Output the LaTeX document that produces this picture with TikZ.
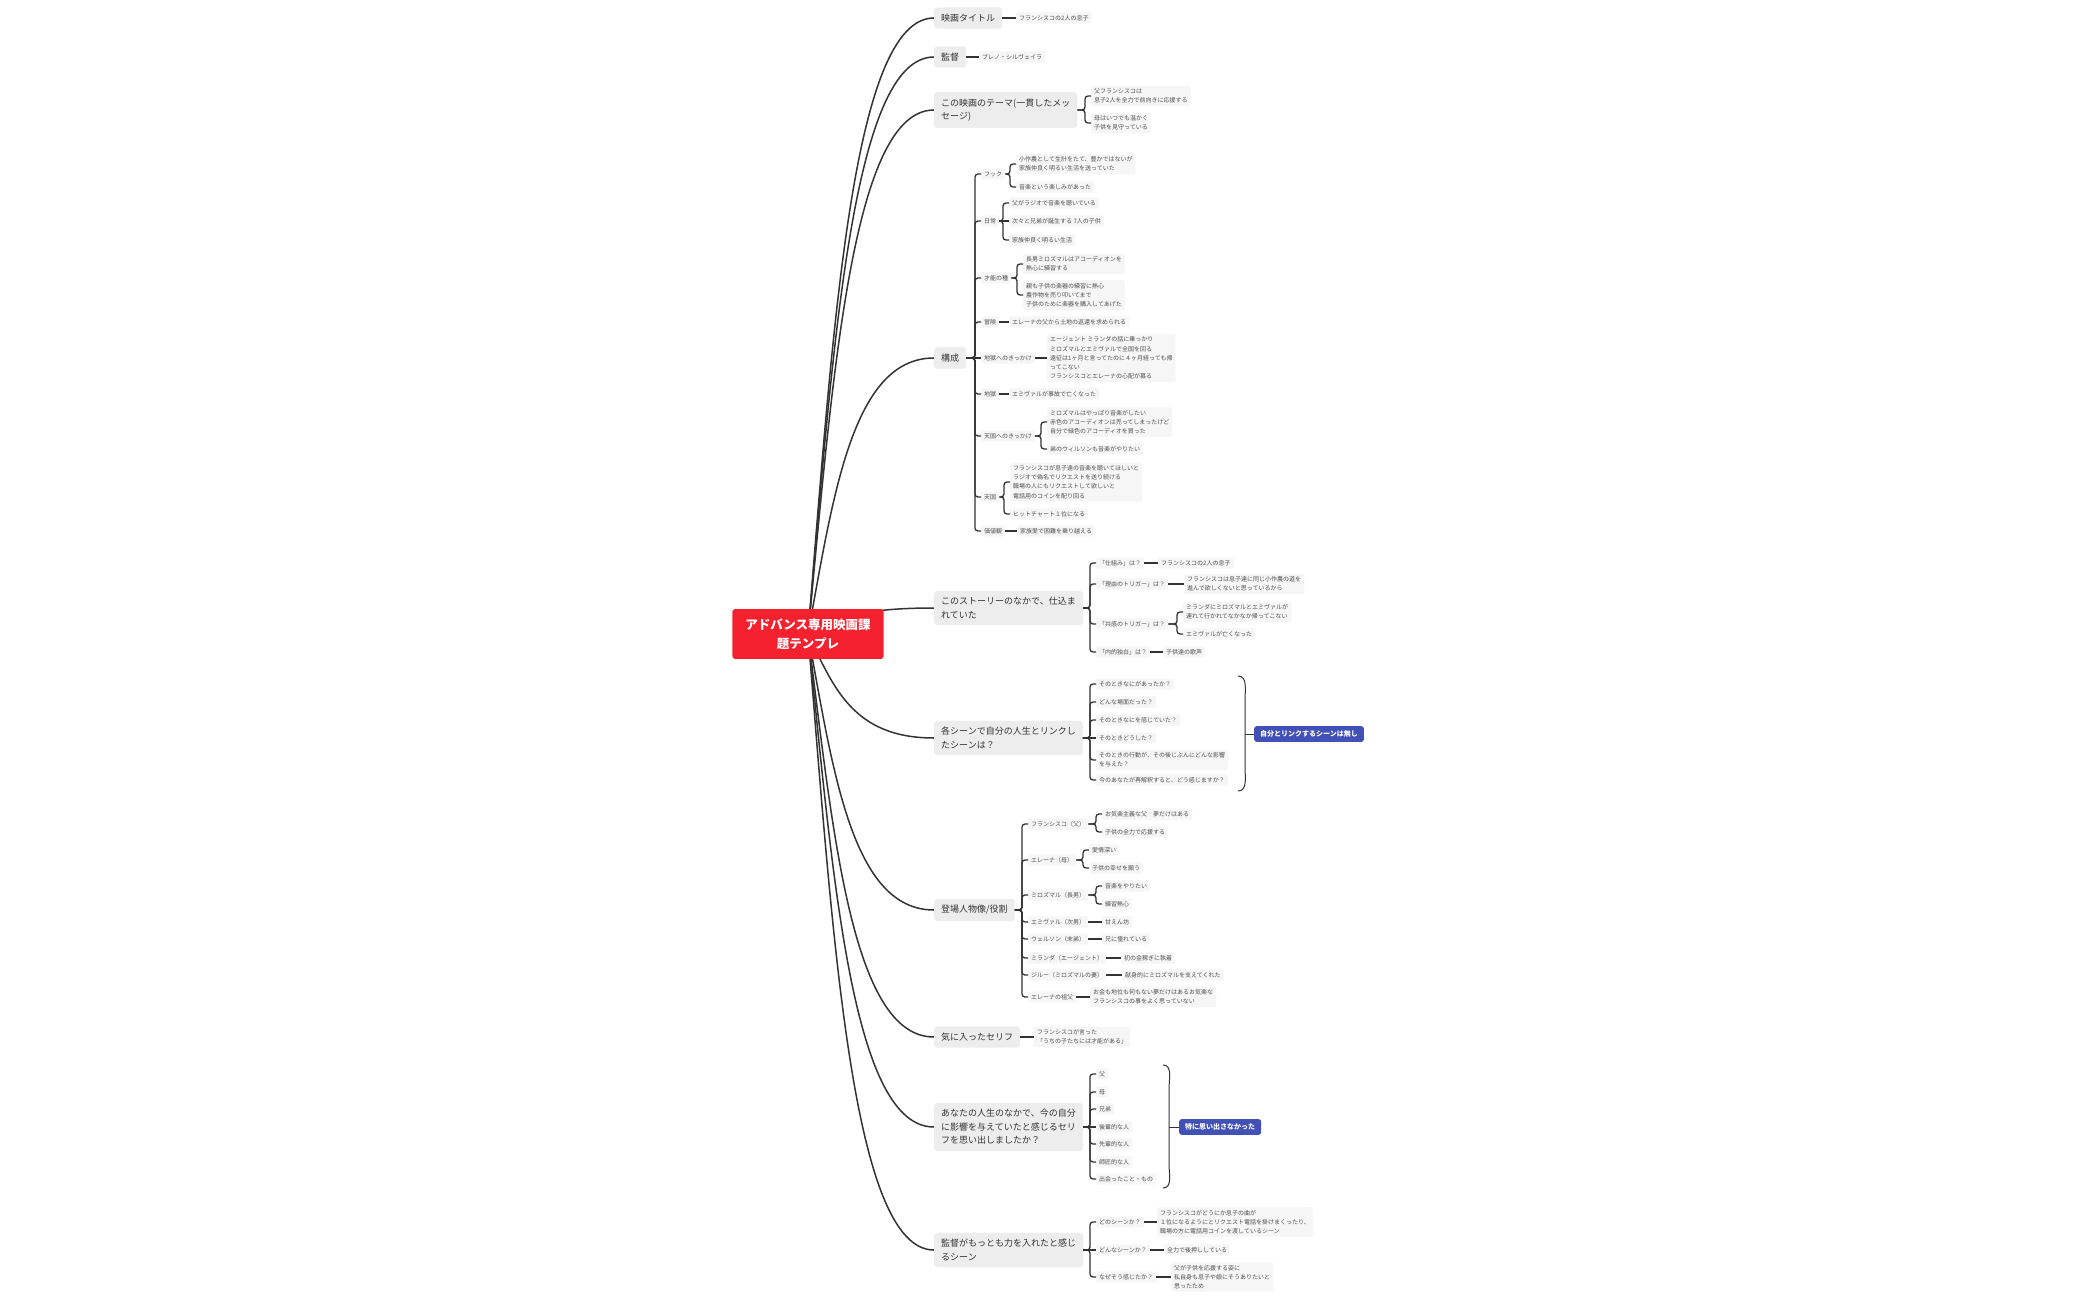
\documentclass[tikz,border=0pt]{standalone}
\usepackage{fontspec}
\setmainfont{Noto Sans CJK JP}
\usepackage{tikz}
\usetikzlibrary{calc, backgrounds}
\definecolor{rootred}{HTML}{F6212F}
\definecolor{sumblue}{HTML}{4251B5}
\definecolor{topicgray}{HTML}{EDEDED}
\definecolor{leafgray}{HTML}{F6F6F6}
\definecolor{inkgray}{HTML}{333333}
\definecolor{textgray}{HTML}{505050}
\def\spineGap{6}
% elbow links from a parent to its children
\newcommand{\branch}[2]{%
\foreach \kid in {#2}
\draw[link] (#1.east) -| ($(\kid.west)+(-\spineGap,0)$) -- (\kid.west);
}
% straight link to a child on the same line
\newcommand{\link}[2]{%
\draw[link] (#1.east) -- (#1.east -| #2.west);
}
% curved trunk from the root to a topic
\newcommand{\trunk}[1]{%
\draw[trunkline] let \p1=(root.center), \p2=(#1.west) in
(\p1) .. controls ({\x1+0.2*(\x2-\x1)},{\y1+0.5*(\y2-\y1)})
and ({\x1+0.35*(\x2-\x1)},\y2) .. (\p2);
}
\begin{document}
\begin{tikzpicture}[
    x=1pt, y=-1pt,
    rootbox/.style={fill=rootred, text=white, rounded corners=3pt, align=center,
        inner xsep=13pt, inner ysep=9.5pt, font=\fontsize{12.5}{19}\selectfont\bfseries},
    topic/.style={anchor=west, fill=topicgray, text=inkgray, rounded corners=3pt, align=left,
        inner xsep=7pt, inner ysep=6.5pt, font=\fontsize{9}{13.5}\selectfont},
    leaf/.style={anchor=west, fill=leafgray, text=textgray, rounded corners=2pt, align=left,
        inner xsep=3pt, inner ysep=2.8pt, font=\fontsize{6}{9.2}\selectfont},
    summary/.style={anchor=west, fill=sumblue, text=white, rounded corners=2.5pt,
        inner xsep=6pt, inner ysep=4.5pt, font=\fontsize{7}{9}\selectfont\bfseries},
    link/.style={draw=inkgray, line width=1.3pt, rounded corners=3pt},
    trunkline/.style={draw=inkgray, line width=1.5pt},
    brace/.style={draw=inkgray, line width=1pt}
]
\useasboundingbox (0,0) rectangle (2099,1300);

\node[rootbox] (root) at (808,634) {アドバンス専用映画課\\題テンプレ};

% main topics
\node[topic] (title) at (934,18) {映画タイトル};
\node[topic] (director) at (934,57) {監督};
\node[topic] (theme) at (934,110) {この映画のテーマ(一貫したメッ\\セージ)};
\node[topic] (plot) at (934,358) {構成};
\node[topic] (setup) at (934,608) {このストーリーのなかで、仕込ま\\れていた};
\node[topic] (scene) at (934,738) {各シーンで自分の人生とリンクし\\たシーンは？};
\node[topic] (cast) at (934,910) {登場人物像/役割};
\node[topic] (quote) at (934,1037) {気に入ったセリフ};
\node[topic] (influence) at (934,1127) {あなたの人生のなかで、今の自分\\に影響を与えていたと感じるセリ\\フを思い出しましたか？};
\node[topic] (effort) at (934,1250) {監督がもっとも力を入れたと感じ\\るシーン};

% title, director, theme
\node[leaf] (titleA) at (1016,18) {フランシスコの2人の息子};
\node[leaf] (directorA) at (979,57) {ブレノ・シルヴェイラ};
\node[leaf] (themeA) at (1091,96) {父フランシスコは\\息子2人を全力で前向きに応援する};
\node[leaf] (themeB) at (1091,123) {母はいつでも温かく\\子供を見守っている};

% plot
\node[leaf] (hook) at (981,174) {フック};
\node[leaf] (daily) at (981,221) {日常};
\node[leaf] (seed) at (981,278) {才能の種};
\node[leaf] (risk) at (981,322) {冒険};
\node[leaf] (hellcue) at (981,358) {地獄へのきっかけ};
\node[leaf] (hell) at (981,394) {地獄};
\node[leaf] (heavencue) at (981,436) {天国へのきっかけ};
\node[leaf] (heaven) at (981,497) {天国};
\node[leaf] (value) at (981,531) {価値観};

\node[leaf] (hookA) at (1016,164) {小作農として生計をたて、豊かではないが\\家族仲良く明るい生活を送っていた};
\node[leaf] (hookB) at (1016,187) {音楽という楽しみがあった};
\node[leaf] (dailyA) at (1009,203) {父がラジオで音楽を聴いている};
\node[leaf] (dailyB) at (1009,221) {次々と兄弟が誕生する 7人の子供};
\node[leaf] (dailyC) at (1009,240) {家族仲良く明るい生活};
\node[leaf] (seedA) at (1023,264) {長男ミロズマルはアコーディオンを\\熱心に練習する};
\node[leaf] (seedB) at (1023,295) {親も子供の楽器の練習に熱心\\農作物を売り叩いてまで\\子供のために楽器を購入してあげた};
\node[leaf] (riskA) at (1009,322) {エレーナの父から土地の返還を求められる};
\node[leaf] (hellcueA) at (1047,358) {エージェント ミランダの話に乗っかり\\ミロズマルとエミヴァルで全国を回る\\遠征は1ヶ月と言ってたのに４ヶ月経っても帰\\ってこない\\フランシスコとエレーナの心配が募る};
\node[leaf] (hellA) at (1009,394) {エミヴァルが事故で亡くなった};
\node[leaf] (heavencueA) at (1047,422) {ミロズマルはやっぱり音楽がしたい\\赤色のアコーディオンは売ってしまったけど\\自分で緑色のアコーディオを買った};
\node[leaf] (heavencueB) at (1047,449) {弟のウィルソンも音楽がやりたい};
\node[leaf] (heavenA) at (1010,482) {フランシスコが息子達の音楽を聴いてほしいと\\ラジオで偽名でリクエストを送り続ける\\職場の人にもリクエストして欲しいと\\電話用のコインを配り回る};
\node[leaf] (heavenB) at (1010,514) {ヒットチャート１位になる};
\node[leaf] (valueA) at (1017,531) {家族愛で困難を乗り越える};

% setup
\node[leaf] (mech) at (1096,563) {「仕組み」は？};
\node[leaf] (why) at (1096,584) {「理由のトリガー」は？};
\node[leaf] (empathy) at (1096,624) {「共感のトリガー」は？};
\node[leaf] (inner) at (1096,652) {「内的独白」は？};
\node[leaf] (mechA) at (1158,563) {フランシスコの2人の息子};
\node[leaf] (whyA) at (1184,584) {フランシスコは息子達に同じ小作農の道を\\進んで欲しくないと思っているから};
\node[leaf] (empathyA) at (1183,612) {ミランダにミロズマルとエミヴァルが\\連れて行かれてなかなか帰ってこない};
\node[leaf] (empathyB) at (1183,634) {エミヴァルが亡くなった};
\node[leaf] (innerA) at (1163,652) {子供達の歌声};

% scenes
\node[leaf] (sq1) at (1096,684) {そのときなにがあったか？};
\node[leaf] (sq2) at (1096,702) {どんな場面だった？};
\node[leaf] (sq3) at (1096,720) {そのときなにを感じていた？};
\node[leaf] (sq4) at (1096,738) {そのときどうした？};
\node[leaf] (sq5) at (1096,760) {そのときの行動が、その後じぶんにどんな影響\\を与えた？};
\node[leaf] (sq6) at (1096,780) {今のあなたが再解釈すると、どう感じますか？};
\node[summary] (sceneS) at (1254,734) {自分とリンクするシーンは無し};

% cast
\node[leaf] (father) at (1028,824) {フランシスコ（父）};
\node[leaf] (mother) at (1028,860) {エレーナ（母）};
\node[leaf] (eldest) at (1028,895) {ミロズマル（長男）};
\node[leaf] (second) at (1028,922) {エミヴァル（次男）};
\node[leaf] (youngest) at (1028,939) {ウェルソン（末弟）};
\node[leaf] (agent) at (1028,958) {ミランダ（エージェント）};
\node[leaf] (wife) at (1028,975) {ジルー（ミロズマルの妻）};
\node[leaf] (grandpa) at (1028,997) {エレーナの祖父};
\node[leaf] (fatherA) at (1102,814) {お気楽主義な父　夢だけはある};
\node[leaf] (fatherB) at (1102,832) {子供の全力で応援する};
\node[leaf] (motherA) at (1089,850) {愛情深い};
\node[leaf] (motherB) at (1089,868) {子供の幸せを願う};
\node[leaf] (eldestA) at (1102,886) {音楽をやりたい};
\node[leaf] (eldestB) at (1102,904) {練習熱心};
\node[leaf] (secondA) at (1102,922) {甘えん坊};
\node[leaf] (youngestA) at (1102,939) {兄に憧れている};
\node[leaf] (agentA) at (1121,958) {初の金稼ぎに執着};
\node[leaf] (wifeA) at (1122,975) {献身的にミロズマルを支えてくれた};
\node[leaf] (grandpaA) at (1090,997) {お金も地位も何もない夢だけはあるお気楽な\\フランシスコの事をよく思っていない};

% quote, influence
\node[leaf] (quoteA) at (1034,1037) {フランシスコが言った\\「うちの子たちには才能がある」};
\node[leaf] (who1) at (1096,1074) {父};
\node[leaf] (who2) at (1096,1092) {母};
\node[leaf] (who3) at (1096,1109) {兄弟};
\node[leaf] (who4) at (1096,1127) {後輩的な人};
\node[leaf] (who5) at (1096,1144) {先輩的な人};
\node[leaf] (who6) at (1096,1162) {師匠的な人};
\node[leaf] (who7) at (1096,1179) {出会ったこと・もの};
\node[summary] (influenceS) at (1179,1127) {特に思い出さなかった};

% effort
\node[leaf] (which) at (1096,1222) {どのシーンか？};
\node[leaf] (what) at (1096,1250) {どんなシーンか？};
\node[leaf] (reason) at (1096,1277) {なぜそう感じたか？};
\node[leaf] (whichA) at (1157,1222) {フランシスコがどうにか息子の曲が\\１位になるようにとリクエスト電話を掛けまくったり、\\職場の方に電話用コインを渡しているシーン};
\node[leaf] (whatA) at (1164,1250) {全力で後押ししている};
\node[leaf] (reasonA) at (1171,1277) {父が子供を応援する姿に\\私自身も息子や娘にそうありたいと\\思ったため};

% links
\link{title}{titleA}
\link{director}{directorA}
\branch{theme}{themeA,themeB}
\branch{plot}{hook,daily,seed,risk,hell,heavencue,heaven,value}
\link{plot}{hellcue}
\branch{hook}{hookA,hookB}
\branch{daily}{dailyA,dailyC}
\link{daily}{dailyB}
\branch{seed}{seedA,seedB}
\link{risk}{riskA}
\link{hellcue}{hellcueA}
\link{hell}{hellA}
\branch{heavencue}{heavencueA,heavencueB}
\branch{heaven}{heavenA,heavenB}
\link{value}{valueA}
\branch{setup}{mech,why,empathy,inner}
\link{mech}{mechA}
\link{why}{whyA}
\branch{empathy}{empathyA,empathyB}
\link{inner}{innerA}
\branch{scene}{sq1,sq2,sq3,sq5,sq6}
\link{scene}{sq4}
\branch{cast}{father,mother,eldest,second,youngest,agent,wife,grandpa}
\branch{father}{fatherA,fatherB}
\branch{mother}{motherA,motherB}
\branch{eldest}{eldestA,eldestB}
\link{second}{secondA}
\link{youngest}{youngestA}
\link{agent}{agentA}
\link{wife}{wifeA}
\link{grandpa}{grandpaA}
\link{quote}{quoteA}
\branch{influence}{who1,who2,who3,who5,who6,who7}
\link{influence}{who4}
\branch{effort}{which,reason}
\link{effort}{what}
\link{which}{whichA}
\link{what}{whatA}
\link{reason}{reasonA}

% summary braces
\coordinate (sceneT) at (1238,676);
\coordinate (sceneB) at (1238,791);
\coordinate (sceneM) at (1245,734);
\draw[brace] (sceneT) to[out=0,in=90] (1245,700) -- (1245,767) to[out=-90,in=0] (sceneB);
\draw[brace] (sceneM) -- (sceneS.west);
\coordinate (inflT) at (1163,1065);
\coordinate (inflB) at (1163,1188);
\coordinate (inflM) at (1169,1127);
\draw[brace] (inflT) to[out=0,in=90] (1169,1089) -- (1169,1164) to[out=-90,in=0] (inflB);
\draw[brace] (inflM) -- (influenceS.west);

\begin{scope}[on background layer]
\fill[white] (0,0) rectangle (2099,1300);
\foreach \tp in {title,director,theme,plot,setup,scene,cast,quote,influence,effort}
    {\trunk{\tp}}
\end{scope}
\end{tikzpicture}
\end{document}
